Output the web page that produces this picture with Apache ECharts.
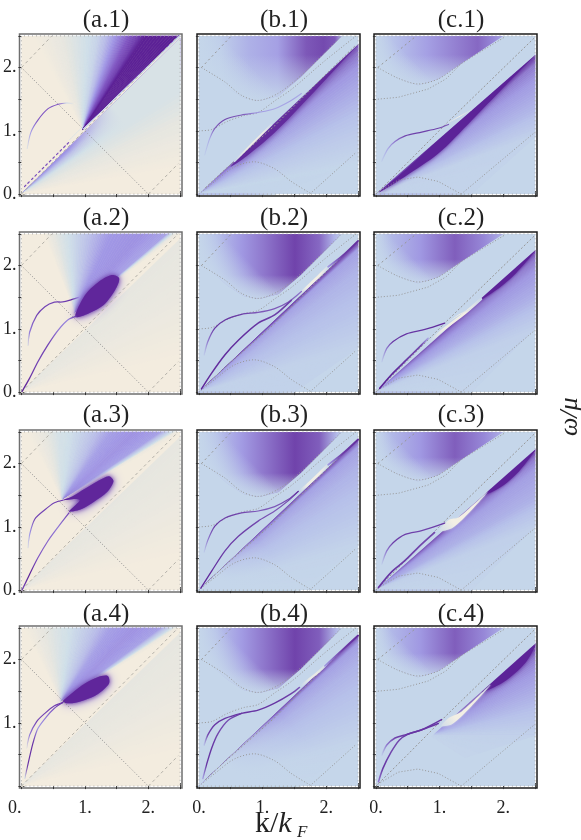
<!DOCTYPE html>
<html>
<head>
<meta charset="utf-8">
<style>html,body{margin:0;padding:0;background:#fff}#chart{width:581px;height:840px}</style>
<script src="https://cdn.jsdelivr.net/npm/echarts@6/dist/echarts.min.js"></script>
</head>
<body>
<div id="chart"></div>
<script>
// tick labels
const majorTicks = [0, 0.5, 1, 1.5, 2, 2.5];
const labelTicks = [0, 1, 2];
const labelTicksNoZero = [1, 2];

// guide curves, [k, omega]
const rim = [[0,0],[2.5,0],[2.5,2.5],[0,2.5],[0,0]];
const aDiag = [[0,0],[2.47,2.5]];
const aAnti = [[0,2],[2,0]];
const aUpL = [[0,2],[0.48,2.5]];
const aLowR = [[2,0],[2.47,0.48]];
const bUp = [[0.04,2],[0.41,1.77],[0.67,1.56],[0.93,1.48],[1.24,1.59],[1.61,1.88],[2.14,2.4],[2.24,2.5]];
const bUpL = [[0.04,2],[0.51,2.5]];
const bMid = [[0,1],[0.2,1.02],[0.45,1.15],[0.7,1.24],[0.93,1.29],[1.2,1.48],[1.46,1.66],[1.97,2.1],[2.47,2.5]];
const bDiag = [[0.1,0.1],[0.41,0.39],[1.19,1.08],[1.97,1.87],[2.47,2.36]];
const bLow = [[0,0],[0.25,0.2],[0.56,0.43],[0.88,0.51],[1.19,0.4],[1.45,0.2],[1.74,0.02]];
const bLowR = [[1.74,0],[2.47,0.66]];
const cUp = [[0.03,2],[0.35,1.83],[0.66,1.74],[0.98,1.82],[1.34,2.06],[2.02,2.48]];
const cUpL = [[0.03,2],[0.61,2.48]];
const cMid = [[0.03,1.5],[0.35,1.53],[0.82,1.66],[1.1,1.82],[1.34,2.06]];
const cDiag = [[0,0],[0.5,0.5],[1.11,1.12],[2.5,2.48]];
const cLow = [[0.03,0.03],[0.35,0.22],[0.66,0.27],[0.98,0.2],[1.34,0]];
const cLowR = [[1.34,0],[2.5,0.98]];

// bowl outlines of the upper continuum
const bBowl = [[0,2.15],[0.2,1.9],[0.45,1.68],[0.7,1.52],[0.95,1.47],[1.25,1.55],[1.6,1.85],[2.15,2.4],[2.25,2.5],[0,2.5]];
const cBowl = [[0,2.1],[0.3,1.85],[0.66,1.72],[0.98,1.82],[1.34,2.06],[2.0,2.5],[0,2.5]];

// column a: intensity fans [k, omega, level], blobs [k, omega], bands [k, omega, level]
const a1Low = [[2.5,2.47,0.55],[2.5,2.2,0.45],[2.5,1.6,0.2],[2.5,0.9,0.08],[2.5,0.4,0]];
const a1Up = [[0.2,2.5,0],[0.6,2.5,0.1],[0.9,2.5,0.2],[1.2,2.5,0.3],[1.45,2.5,0.48],[1.65,2.5,0.65],[1.85,2.5,0.85],[1.95,2.5,1],[2.47,2.5,1],[2.5,2.5,0.2]];
const a1Sliver = [[0,0],[2.5,2.47],[2.5,1.6]];
const a1C1 = [[0.09,0.72,0.15],[0.15,0.98,0.5],[0.26,1.17,0.7],[0.42,1.35,0.7],[0.58,1.42,0.7],[0.71,1.44,0.3],[0.84,1.43,0.03]];
const a1C2 = [[0.05,0.12,0.75],[0.76,0.83,0.75]];
const a1C3 = [[0.76,0.86,0.2],[0.98,1.08,0.2]];

const a2Low = [[2.5,2.42,0.12],[2.5,1.5,0.08],[2.5,0.5,0]];
const a2Up = [[0.35,2.5,0],[0.55,2.5,0.15],[0.75,2.5,0.25],[1.1,2.5,0.4],[1.4,2.5,0.5],[1.9,2.5,0.52],[2.3,2.5,0.47],[2.42,2.5,0.1],[2.5,2.5,0]];
const a2Blob = [[0.85,1.19],[1.0,1.53],[1.2,1.73],[1.42,1.85],[1.54,1.8],[1.48,1.62],[1.3,1.38],[1.05,1.24]];
const a2C1 = [[0.1,0.74,0.15],[0.13,0.95,0.6],[0.24,1.21,0.8],[0.37,1.35,0.8],[0.52,1.42,0.8],[0.65,1.425,0.8],[0.79,1.46,0.9],[0.92,1.5,0.5]];
const a2C2 = [[0.01,0.01,1],[0.13,0.22,0.9],[0.26,0.48,0.8],[0.42,0.75,0.8],[0.58,0.98,0.6],[0.73,1.14,0.55],[0.87,1.2,0.9]];

const a3Up = [[0.1,2.5,0],[0.35,2.5,0.1],[0.6,2.5,0.22],[0.8,2.5,0.26],[1.1,2.5,0.36],[1.4,2.5,0.48],[1.8,2.5,0.52],[2.2,2.5,0.48],[2.38,2.5,0.25],[2.45,2.5,0.05],[2.5,2.45,0]];
const a3Blob = [[0.65,1.42],[0.8,1.48],[1.0,1.6],[1.2,1.72],[1.38,1.8],[1.45,1.72],[1.35,1.55],[1.15,1.4],[0.95,1.28],[0.75,1.24],[0.85,1.34],[0.92,1.42],[0.85,1.44]];
const a3C1 = [[0.1,0.67,0.15],[0.13,0.88,0.5],[0.21,1.12,0.8],[0.37,1.27,0.8],[0.52,1.38,0.8],[0.65,1.42,0.9]];
const a3C2 = [[0.01,0,0.8],[0.13,0.25,1],[0.26,0.51,0.7],[0.42,0.78,0.65],[0.58,1,0.6],[0.75,1.22,0.8]];

const a4Up = [[0.05,2.5,0],[0.3,2.5,0.1],[0.6,2.5,0.2],[0.8,2.5,0.26],[1.1,2.5,0.36],[1.4,2.5,0.48],[1.8,2.5,0.52],[2.2,2.5,0.48],[2.38,2.5,0.25],[2.45,2.5,0.05],[2.5,2.45,0]];
const a4Blob = [[0.65,1.33],[0.8,1.47],[1.0,1.62],[1.2,1.72],[1.36,1.74],[1.38,1.62],[1.2,1.45],[1.0,1.36],[0.8,1.31]];
const a4C1 = [[0.08,0.6,0.1],[0.13,0.81,0.6],[0.24,1.02,0.8],[0.37,1.15,0.8],[0.52,1.27,0.8],[0.65,1.32,0.9]];
const a4C2 = [[0.05,0.12,0.2],[0.1,0.33,0.9],[0.18,0.67,0.9],[0.26,0.91,0.5],[0.39,1.09,0.6],[0.52,1.23,0.7],[0.65,1.32,0.9]];

// column b
const b1Low = [[2.5,2.37,0.75],[2.5,2.25,0.62],[2.5,2,0.5],[2.5,1.5,0.33],[2.5,0.9,0.12],[2.5,0.5,0],[1.2,0,0.02],[0.5,0,0.25]];
const b1Stops = [[0,0],[0.15,0.1],[0.35,0.35],[0.55,0.45],[0.75,0.7],[0.87,0.78],[0.95,0.7],[1,0.3]];
const b1Lens = [[0.5,0.44],[1.2,1.12],[2.5,2.37],[2.0,1.82],[1.2,0.98],[0.75,0.6]];
const b1Edge = [2.5,2.37];
const b1C1 = [[0.09,0.62,0.1],[0.17,0.88,0.4],[0.25,1.04,0.7],[0.41,1.18,0.8],[0.67,1.25,0.7],[0.93,1.29,0.5],[1.19,1.35,0.4],[1.45,1.48,0.45],[1.61,1.59,0.4]];
const b1Streak = [[0.56,0.52,-0.1],[0.75,0.71,-0.8],[1.0,0.96,-0.9],[1.14,1.1,-0.2]];

const b2Low = [[2.5,2.38,0.85],[2.5,2.25,0.45],[2.5,1.9,0.33],[2.5,1.3,0.22],[2.5,0.7,0.05],[1.5,0,0.05],[0.5,0,0.15]];
const b2Stops = [[0,0],[0.12,0.25],[0.3,0.5],[0.45,0.6],[0.67,0.82],[0.84,0.65],[0.94,0.35],[1,0.1]];
const b2C1 = [[0.08,0.59,0.1],[0.14,0.8,0.6],[0.25,1.01,0.9],[0.41,1.14,0.9],[0.67,1.23,0.85],[0.93,1.26,0.7],[1.19,1.32,0.7],[1.4,1.42,0.7],[1.61,1.59,0.6]];
const b2C2 = [[0.04,0.05,1],[0.2,0.3,0.95],[0.41,0.59,0.95],[0.62,0.82,0.95],[0.93,1.09,0.9],[1.19,1.22,0.85],[1.45,1.45,0.85]];
const b2Streak = [[1.55,1.52,0],[1.7,1.66,-0.9],[1.9,1.85,-1],[2.05,2,-0.1]];
const b2Edge = [[2.03,1.98,0.5],[2.25,2.15,0.85],[2.5,2.39,0.95]];

const b3Stops = [[0,0],[0.12,0.22],[0.3,0.48],[0.45,0.6],[0.67,0.82],[0.84,0.68],[0.96,0.3],[1,0.1]];
const b3C1 = [[0.08,0.6,0.1],[0.14,0.79,0.6],[0.25,1.01,0.9],[0.41,1.14,0.85],[0.67,1.22,0.8],[0.93,1.25,0.7],[1.19,1.32,0.7],[1.4,1.43,0.8],[1.56,1.56,0.9]];
const b3C2 = [[0.03,0.03,1],[0.2,0.3,0.95],[0.41,0.62,0.85],[0.62,0.85,0.85],[0.93,1.09,0.8],[1.19,1.25,0.7],[1.4,1.41,0.8],[1.56,1.56,0.9]];
const b3Streak = [[1.58,1.56,0],[1.7,1.66,-0.9],[1.9,1.85,-1],[2.05,2,-0.1]];
const b3Edge = [[2.03,1.98,0.5],[2.25,2.15,0.85],[2.5,2.38,0.95]];

const b4C1 = [[0.08,0.65,0.2],[0.14,0.81,0.8],[0.25,0.97,0.9],[0.41,1.07,0.9],[0.67,1.15,0.9],[0.93,1.2,0.9],[1.19,1.31,0.9],[1.45,1.46,0.85],[1.58,1.56,0.7]];
const b4C2 = [[0.06,0.12,0.4],[0.12,0.34,0.9],[0.2,0.6,0.9],[0.3,0.83,0.8],[0.46,1.04,0.75],[0.67,1.15,0.9]];
const b4Streak = [[1.6,1.58,0],[1.72,1.68,-0.7],[1.85,1.78,-0.8],[2,1.92,-0.1]];
const b4Edge = [[1.98,1.9,0.5],[2.25,2.15,0.85],[2.5,2.38,0.95]];
const b34Low = [[2.5,2.38,0.75],[2.5,2.25,0.45],[2.5,1.9,0.33],[2.5,1.3,0.2],[2.5,0.7,0.03],[1.6,0,0],[0.9,0,0]];
const b34Wash = [[0,0],[2.5,2.38],[2.5,0.4],[1,0]];

// column c
const c1Low = [[2.5,2.2,0.85],[2.5,2.05,0.6],[2.5,1.7,0.45],[2.5,1.3,0.3],[2.5,0.9,0.05],[1.5,0,0.03],[0.5,0,0.25]];
const c1Stops = [[0,0],[0.15,0.25],[0.4,0.45],[0.8,0.65],[0.92,0.55],[1,0.42]];
const c1Lens = [[0.05,0.03],[0.46,0.38],[0.98,0.86],[2.02,1.78],[2.5,2.2],[2.02,1.7],[1.5,1.16],[0.98,0.64],[0.46,0.28]];
const c1Edge = [2.5,2.2];
const c1C1 = [[0.09,0.52,0.1],[0.19,0.72,0.4],[0.3,0.83,0.6],[0.46,0.92,0.8],[0.72,0.98,0.85],[0.98,1.04,0.8],[1.14,1.1,0.7]];
const c1Streak = [[1.12,1.12,-0.2],[1.3,1.22,-1],[1.5,1.33,-0.2]];

const c2Low = [[2.5,2.24,0.75],[2.5,2.1,0.6],[2.5,1.9,0.5],[2.5,1.5,0.35],[2.5,1,0.08],[1.5,0,0.02],[0.5,0,0.2]];
const c2Stops = [[0,0],[0.12,0.3],[0.35,0.5],[0.62,0.68],[0.85,0.55],[1,0.35]];
const c2Lens = [[1.6,1.43],[2.5,2.24],[2.2,1.88],[1.9,1.62]];
const c2Edge = [2.5,2.24];
const c2C1 = [[0.09,0.48,0.1],[0.17,0.69,0.6],[0.27,0.8,0.9],[0.48,0.92,0.9],[0.77,0.99,0.9],[1.08,1.09,1]];
const c2C2 = [[0.06,0.06,1],[0.24,0.27,1],[0.45,0.48,0.9],[0.71,0.74,0.8],[0.82,0.85,0.4]];
const c2Streak = [[0.85,0.8,-0.1],[1.05,0.98,-0.9],[1.4,1.25,-1],[1.65,1.47,-0.1]];
const c2Streak2 = [[1.13,1.1,-0.2],[1.3,1.22,-1],[1.5,1.32,-0.3]];

const c3Low = [[2.5,2.22,0.75],[2.5,2.08,0.6],[2.5,1.85,0.45],[2.5,1.45,0.35],[2.5,1,0.08],[1.5,0,0.02],[0.5,0,0.15]];
const c3Lens = [[1.7,1.51],[2.5,2.22],[2.25,1.88],[1.95,1.62]];
const c3Edge = [2.5,2.22];
const c3C1 = [[0.09,0.41,0.1],[0.17,0.62,0.6],[0.27,0.75,0.85],[0.46,0.88,0.85],[0.72,0.94,0.8],[1.08,1.06,0.9]];
const c3C2 = [[0.04,0.04,0.9],[0.24,0.28,0.9],[0.45,0.46,0.85],[0.71,0.72,0.8],[0.92,0.91,0.8]];
const c3Wedge = [[1,0.94],[1.15,1.11],[1.3,1.15],[1.76,1.56],[1.5,1.26],[1.2,0.98]];

const c4Low = [[2.5,2.25,0.8],[2.5,2.05,0.6],[2.5,1.7,0.45],[2.5,1.3,0.3],[2.5,0.8,0.06],[1.4,0.45,0.02]];
const c4Lens = [[1.66,1.49],[2.5,2.25],[2.35,1.95],[2.0,1.64]];
const c4Edge = [2.5,2.25];
const c4C1 = [[0.09,0.49,0.1],[0.17,0.65,0.6],[0.3,0.76,0.8],[0.46,0.81,0.9],[0.72,0.89,0.9],[1.03,1.05,0.9]];
const c4C2 = [[0.04,0.07,0.6],[0.11,0.28,0.9],[0.24,0.54,0.8],[0.37,0.73,0.8],[0.5,0.82,0.9],[0.72,0.89,0.9],[0.98,0.99,0.9]];
const c4Wedge = [[1.03,0.95],[1.15,1.08],[1.35,1.18],[1.8,1.6],[1.5,1.26],[1.2,0.98]];

// colour ramps: level -> colour
const rampA = [[0,'#f3ecdf'],[0.12,'#e6e6e0'],[0.25,'#cfdfe9'],[0.4,'#b9bde9'],[0.5,'#a198e6'],[0.7,'#7f55c3'],[1,'#5c2196']];
const rampB = [[-1,'#f3efe4'],[0,'#c5d6ea'],[0.25,'#b7c1ea'],[0.5,'#a098e2'],[0.7,'#7d58b8'],[1,'#5c2398']];

function hex(c) { return [1, 3, 5].map(function(i) { return parseInt(c.substr(i, 2), 16); }); }

function shade(ramp, level, alpha) {
    let i = 0;
    level = Math.max(ramp[0][0], Math.min(1, level));
    while (i < ramp.length - 2 && level > ramp[i + 1][0]) i++;
    const t = (level - ramp[i][0]) / (ramp[i + 1][0] - ramp[i][0]);
    const p = hex(ramp[i][1]), q = hex(ramp[i + 1][1]);
    const rgb = p.map(function(v, n) { return Math.round(v + (q[n] - v) * t); });
    return 'rgba(' + rgb.join(',') + ',' + (alpha === undefined ? 1 : alpha) + ')';
}

const square = [[0,0],[2.5,0],[2.5,2.5],[0,2.5]];
const wedgeStops = [[0,-0.3],[0.25,-1],[0.7,-1],[1,-0.1]];

function fan(apex, rays) { return { t: 'fan', apex: apex, rays: rays }; }
function band(pts, from, to, stops, blur) { return { t: 'band', pts: pts, from: from, to: to, stops: stops, blur: blur }; }
function curve(pts, w, dash) { return { t: 'curve', pts: pts, w: w, dash: dash }; }
function guide(pts, dash, color) { return { t: 'guide', pts: pts, dash: dash, color: color }; }
function solid(pts, level, blur) { return band(pts, [0, 0], [2.5, 2.5], [[0, level], [1, level]], blur); }
// 遮住暗带上方，保持上边缘锐利
function mask(edge) { return { t: 'band', pts: [[0, 0], edge, [2.5, 2.5], [0, 2.5]], from: [0, 0], to: [2.5, 2.5], stops: [[0, 0], [1, 0]] }; }
function wash(pts, from, to) { return band(pts, from, to, [[0, 0, 1], [1, 0, 0]]); }

function guidesA() {
    return [guide(aDiag, [3, 3], '#b3b0a8'), guide(aAnti, [1, 2], '#8f8f8f'), guide(aUpL, [3, 3], '#b3b0a8'), guide(aLowR, [3, 3], '#b3b0a8'), guide(rim, [1, 3], '#a8a8a8')];
}
function guidesB() {
    return [guide(bUp, [1, 2]), guide(bUpL, [2, 3]), guide(bMid, [1, 2]), guide(bDiag, [2, 2]), guide(bLow, [1, 2]), guide(bLowR, [1, 2]), guide(rim, [1, 3], '#a8a8a8')];
}
function guidesC() {
    return [guide(cUp, [1, 2]), guide(cUpL, [2, 3]), guide(cMid, [1, 2]), guide(cDiag, [2, 2]), guide(cLow, [1, 2]), guide(cLowR, [1, 2]), guide(rim, [1, 3], '#a8a8a8')];
}
function bowl(outline, right, stops, top, left) {
    return [
        band(outline, [0, 2], [right, 2], stops),
        band(outline, [0, top[0]], [0, top[1]], [[0, 0, 1], [1, 0, 0]]),
        wash(outline, left[0], left[1])
    ];
}
const bLeft = [[0.3, 1.75], [0.7, 2.15]];
const cLeft = [[0.2, 1.9], [0.5, 2.2]];

// 每个子图的图层
const panels = [
    { name: '(a.1)', col: 0, row: 0, layers: [solid(square, 0), fan([0, 0], a1Low), band(a1Sliver, [0.75, 0.7], [1.5, 1.3], [[0, 0.2, 0], [1, 0.2, 1]]), fan([0.97, 1.02], a1Up)].concat(guidesA(), [curve(a1C1, 1.1), curve(a1C2, 1.2, [2, 3]), curve(a1C3, 0.8)]) },
    { name: '(b.1)', col: 1, row: 0, layers: [solid(square, 0), fan([0, 0], b1Low), solid(b1Lens, 0.95, 6), mask(b1Edge)].concat(bowl(bBowl, 2.25, b1Stops, [1.45, 2.2], bLeft), guidesB(), [curve(b1Streak, 1.8), curve(b1C1, 1.1)]) },
    { name: '(c.1)', col: 2, row: 0, layers: [solid(square, 0), fan([0, 0], c1Low), solid(c1Lens, 1, 4), mask(c1Edge)].concat(bowl(cBowl, 2, c1Stops, [1.7, 2.2], cLeft), guidesC(), [curve(c1Streak, 1), curve(c1C1, 1.2)]) },

    { name: '(a.2)', col: 0, row: 1, layers: [solid(square, 0), fan([0, 0], a2Low), fan([0.85, 1.25], a2Up), solid(a2Blob, 0.55, 12), solid(a2Blob, 0.97, 5)].concat(guidesA(), [curve(a2C1, 1.3), curve(a2C2, 1.3)]) },
    { name: '(b.2)', col: 1, row: 1, layers: [solid(square, 0), fan([0, 0], b2Low)].concat(bowl(bBowl, 2.25, b2Stops, [1.45, 1.85], bLeft), guidesB(), [curve(b2Streak, 2.6), curve(b2Edge, 1.8), curve(b2C1, 1.3), curve(b2C2, 1.5)]) },
    { name: '(c.2)', col: 2, row: 1, layers: [solid(square, 0), fan([0, 0], c2Low), solid(c2Lens, 1, 3), mask(c2Edge)].concat(bowl(cBowl, 2, c2Stops, [1.7, 2.1], cLeft), guidesC(), [curve(c2Streak, 2.6), curve(c2Streak2, 1), curve(c2C1, 1.3), curve(c2C2, 1.7)]) },

    { name: '(a.3)', col: 0, row: 2, layers: [solid(square, 0), fan([0, 0], a2Low), fan([0.65, 1.42], a3Up), solid(a3Blob, 0.55, 12), solid(a3Blob, 0.97, 5)].concat(guidesA(), [curve(a3C1, 1.2), curve(a3C2, 1.2)]) },
    { name: '(b.3)', col: 1, row: 2, layers: [solid(square, 0), fan([0, 0], b34Low), wash(b34Wash, [0.3, 0.2], [0.9, 0.8])].concat(bowl(bBowl, 2.25, b3Stops, [1.45, 1.85], bLeft), guidesB(), [curve(b3Streak, 2.6), curve(b3Edge, 1.8), curve(b3C1, 1.2), curve(b3C2, 1.3)]) },
    { name: '(c.3)', col: 2, row: 2, layers: [solid(square, 0), fan([0, 0], c3Low), solid(c3Lens, 1, 3), mask(c3Edge), band(c3Wedge, [1, 0.96], [1.76, 1.56], wedgeStops, 2)].concat(bowl(cBowl, 2, c2Stops, [1.7, 2.1], cLeft), guidesC(), [curve(c3C1, 1.3), curve(c3C2, 1.7)]) },

    { name: '(a.4)', col: 0, row: 3, layers: [solid(square, 0), fan([0, 0], a2Low), fan([0.63, 1.33], a4Up), solid(a4Blob, 0.55, 12), solid(a4Blob, 0.97, 5)].concat(guidesA(), [curve(a4C1, 1.2), curve(a4C2, 1.2)]) },
    { name: '(b.4)', col: 1, row: 3, layers: [solid(square, 0), fan([0, 0], b34Low), wash(b34Wash, [0.5, 0.3], [1.3, 1.1])].concat(bowl(bBowl, 2.25, b3Stops, [1.45, 1.85], bLeft), guidesB(), [curve(b4Streak, 2.2), curve(b4Edge, 1.8), curve(b4C1, 1.4), curve(b4C2, 1.4)]) },
    { name: '(c.4)', col: 2, row: 3, layers: [solid(square, 0), fan([0.85, 0.8], c4Low), solid(c4Lens, 1, 4), mask(c4Edge), band(c4Wedge, [1.03, 0.97], [1.8, 1.57], wedgeStops, 2)].concat(bowl(cBowl, 2, c2Stops, [1.7, 2.1], cLeft), guidesC(), [curve(c4C1, 1.5), curve(c4C2, 1.5)]) }
];

const colLeft = [19, 197, 374];
const rowTop = [34, 232, 430, 626];
const titleY = [3, 201, 398, 597];
const frameColor = ['#6f6f6f', '#1c1c1c', '#1c1c1c'];
const serif = 'Liberation Serif';

function render(layers, ramp) {
    return function(params, api) {
        const layer = layers[params.dataIndex];
        const xy = function(p) { return api.coord([p[0], p[1]]); };
        if (layer.t === 'fan') {
            const children = [];
            const a = xy(layer.apex);
            for (let i = 0; i < layer.rays.length - 1; i++) {
                const r = layer.rays[i], s = layer.rays[i + 1];
                const steps = 10;
                for (let n = 0; n < steps; n++) {
                    const u = n / steps, v = (n + 1) / steps;
                    const col = shade(ramp, r[2] + (s[2] - r[2]) * (u + v) / 2);
                    children.push({
                        type: 'polygon',
                        shape: { points: [a, xy([r[0] + (s[0] - r[0]) * u, r[1] + (s[1] - r[1]) * u]), xy([r[0] + (s[0] - r[0]) * v, r[1] + (s[1] - r[1]) * v])] },
                        style: { fill: col, stroke: col, lineWidth: 0.6 }
                    });
                }
            }
            return { type: 'group', children: children };
        }
        if (layer.t === 'band') {
            const f = xy(layer.from), g = xy(layer.to);
            const stops = layer.stops.map(function(s) { return { offset: s[0], color: shade(ramp, s[1], s[2]) }; });
            const style = { fill: new echarts.graphic.LinearGradient(f[0], f[1], g[0], g[1], stops, true) };
            if (layer.blur) {
                style.shadowBlur = layer.blur;
                style.shadowColor = stops[0].color;
            }
            return { type: 'polygon', shape: { points: layer.pts.map(xy), smooth: layer.blur ? 0.3 : 0 }, style: style };
        }
        if (layer.t === 'curve') {
            const first = layer.pts[0], last = layer.pts[layer.pts.length - 1];
            const f = xy(first), g = xy(last);
            const stops = layer.pts.map(function(p) {
                return { offset: (p[0] - first[0]) / (last[0] - first[0]), color: shade(ramp, p[2]) };
            });
            return {
                type: 'polyline',
                shape: { points: layer.pts.map(xy), smooth: 0.3 },
                style: { fill: null, lineWidth: layer.w, lineCap: 'round', lineDash: layer.dash || null, stroke: new echarts.graphic.LinearGradient(f[0], 0, g[0], 0, stops, true) }
            };
        }
        return {
            type: 'polyline',
            shape: { points: layer.pts.map(xy), smooth: layer.pts.length > 5 ? 0.3 : 0 },
            style: { fill: null, lineWidth: 1, lineDash: layer.dash, stroke: layer.color || '#979797' }
        };
    };
}

const grid = [], xAxis = [], yAxis = [], series = [], title = [];
const tickStyle = { show: true, inside: true, length: 3, lineStyle: { color: '#333', width: 1 }, customValues: majorTicks };

panels.forEach(function(p, i) {
    grid.push({ show: true, left: colLeft[p.col], top: rowTop[p.row], width: 163, height: 162, backgroundColor: '#fff', borderColor: frameColor[p.col], borderWidth: 1.5 });
    [0, 1].forEach(function(side) {
        const labelled = side === 0 && p.row === 3;
        xAxis.push({
            type: 'value', gridIndex: i, min: -0.03, max: 2.53, position: side ? 'top' : 'bottom',
            axisLine: { show: false }, splitLine: { show: false }, axisTick: tickStyle,
            axisLabel: { show: labelled, customValues: labelTicks, margin: 11, alignMinLabel: p.col === 0 ? 'right' : 'center', fontFamily: serif, fontSize: 18, color: '#222', formatter: function(v) { return v + '.'; } }
        });
        const labelledY = side === 0 && p.col === 0;
        yAxis.push({
            type: 'value', gridIndex: i, min: -0.03, max: 2.53, position: side ? 'right' : 'left',
            axisLine: { show: false }, splitLine: { show: false }, axisTick: tickStyle,
            axisLabel: { show: labelledY, customValues: p.row === 3 ? labelTicksNoZero : labelTicks, margin: 3, fontFamily: serif, fontSize: 18, color: '#222', formatter: function(v) { return v + '.'; } }
        });
    });
    series.push({
        type: 'custom', coordinateSystem: 'cartesian2d', xAxisIndex: i * 2, yAxisIndex: i * 2, clip: true, silent: true,
        data: p.layers.map(function() { return [0, 0]; }),
        renderItem: render(p.layers, p.col === 0 ? rampA : rampB)
    });
    title.push({
        text: p.name, left: colLeft[p.col] + 82, top: titleY[p.row], textAlign: 'center',
        textStyle: { fontFamily: serif, fontSize: 25, fontWeight: 'normal', color: '#222' }
    });
});

const chart = echarts.init(document.getElementById('chart'), null, { renderer: 'canvas' });
chart.setOption({
    animation: false,
    title: title,
    grid: grid,
    xAxis: xAxis,
    yAxis: yAxis,
    series: series,
    graphic: [
        { type: 'text', left: 255, top: 809, style: { text: 'k/{i|k}', fontFamily: serif, fontSize: 30, fill: '#222', rich: { i: { fontFamily: serif, fontSize: 30, fontStyle: 'italic', fill: '#222' } } } },
        { type: 'text', left: 297, top: 824, style: { text: 'F', fontFamily: serif, fontSize: 17, fontStyle: 'italic', fill: '#222' } },
        { type: 'text', x: 570, y: 436, rotation: Math.PI / 2, style: { text: 'ω/μ', fontFamily: serif, fontSize: 26, fontStyle: 'italic', fill: '#222', align: 'left', verticalAlign: 'middle' } }
    ]
});
</script>
</body>
</html>
